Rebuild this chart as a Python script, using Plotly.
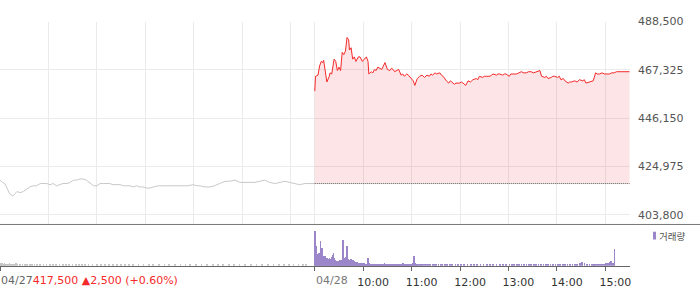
import plotly.graph_objects as go

# ---------------- data ----------------
prev_close = 417500
y_ticks = [403800, 424975, 446150, 467325, 488500]
hour_labels = ["10:00", "11:00", "12:00", "13:00", "14:00", "15:00"]
day_labels = ["04/27", "04/28"]
change_text = "417,500 ▲2,500 (+0.60%)"
legend_text = "거래량"

d1_times = ["09:00","09:03","09:06","09:09","09:12","09:16","09:19","09:21","09:25","09:29",
            "09:33","09:37","09:41","09:45","09:50","09:54","09:58","10:02","10:06","10:10",
            "10:14","10:18","10:23","10:27","10:31","10:35","10:39","10:43","10:47","10:51",
            "10:56","11:00","11:04","11:08","11:12","11:16","11:20","11:24","11:29","11:33",
            "11:37","11:41","11:45","11:49","11:53","11:57","12:02","12:06","12:10","12:16",
            "12:22","12:28","12:35","12:41","12:47","12:53","12:59","13:04","13:08","13:14",
            "13:20","13:26","13:32","13:39","13:45","13:51","13:57","14:03","14:10","14:16",
            "14:22","14:28","14:34","14:41","14:47","14:53","14:59","15:05","15:11","15:18",
            "15:24","15:30"]
d1_prices = [419000,418000,417500,415500,413000,412000,413000,414000,413500,414000,
             415000,416000,416500,416500,417500,417500,417500,417000,417500,416500,
             417000,417500,417500,418000,419000,419000,419500,419500,419000,418000,
             416500,416500,417500,417500,417500,417500,417000,417000,417000,416500,
             416500,416500,416000,416500,416000,416000,415500,415500,416000,416500,
             416500,416500,416500,416500,416500,416500,417000,416500,416500,416000,
             416000,416500,417500,418500,418500,419000,418000,418000,418000,418000,
             418500,419000,418000,417500,418000,418500,418000,417500,417000,417500,
             417500,417500]

d2_times = ["09:00","09:01","09:04","09:06","09:08","09:10","09:11","09:14","09:15","09:18",
            "09:19","09:21","09:24","09:26","09:28","09:30","09:32","09:34","09:36","09:38",
            "09:40","09:42","09:43","09:45","09:47","09:49","09:51","09:54","09:56","09:59",
            "10:02","10:04","10:06","10:07","10:10","10:12","10:14","10:16","10:18","10:20",
            "10:23","10:25","10:27","10:30","10:33","10:35","10:37","10:39","10:41","10:44",
            "10:47","10:49","10:51","10:54","10:56","10:58","11:00","11:02","11:04","11:07",
            "11:10","11:13","11:16","11:19","11:22","11:24","11:26","11:29","11:31","11:35",
            "11:37","11:39","11:43","11:46","11:48","11:50","11:53","11:55","11:59","12:02",
            "12:04","12:07","12:10","12:13","12:16","12:20","12:22","12:24","12:28","12:30",
            "12:33","12:37","12:39","12:41","12:45","12:47","12:49","12:53","12:55","12:57",
            "13:01","13:03","13:06","13:10","13:13","13:16","13:19","13:22","13:25","13:28",
            "13:31","13:35","13:39","13:41","13:45","13:47","13:49","13:53","13:55","13:57",
            "14:01","14:03","14:05","14:08","14:10","14:14","14:16","14:18","14:22","14:25",
            "14:28","14:32","14:34","14:36","14:41","14:45","14:48","14:50","14:53","14:56",
            "14:59","15:02","15:05","15:08","15:11","15:14","15:18","15:21","15:24","15:30"]
d2_prices = [458000,464500,465000,469000,471000,470500,471500,465500,462000,464500,
             466000,465500,472000,471000,467000,468500,467000,475000,474000,475500,
             481500,480500,476000,477000,472000,473000,471000,473000,473000,471000,
             472000,473000,471000,465500,466500,466000,467500,467000,468500,468000,
             467500,469000,470500,467500,467000,468000,467500,466500,467000,467500,
             465000,465500,464500,465500,465000,464000,463500,462500,460500,463500,
             464500,465000,464000,465000,464500,465500,465000,466000,465500,466000,
             465000,464500,462500,461500,462500,462000,461000,461500,461500,462000,
             461500,460500,462500,462000,463000,463500,463000,464500,464000,464500,
             464500,464500,465000,465500,465000,465500,465500,465000,465500,465500,
             464500,465500,465500,465500,466000,466500,466000,466000,466500,466500,
             466000,466500,467000,464500,464000,464500,463500,464000,464500,464500,
             464000,464500,463000,463500,462500,461500,462000,462000,462500,462000,
             463000,462500,463000,461500,462000,462500,466000,465500,465500,466000,
             465500,465500,465500,466000,466000,466500,466500,466500,466500,466500]

# volume: minutes after 09:00, volume (thousand shares)
d1_vol_min = [0,1,2,3,4,5,6,7,8,10,12,14,16,18,20,22,25,28,31,34,37,40,43,46,50,54,58,62,66,70,
              74,78,82,86,90,94,98,102,106,110,115,120,125,130,135,140,145,150,155,160,165,172,
              178,185,190,197,204,210,217,224,230,236,243,250,257,264,270,277,284,290,297,304,
              311,318,325,332,339,346,352,358,364,370,376,379,390]
d1_vol = [3,3,2,3,2,2,3,2,2,2,3,2,2,2,3,2,2,2,1,2,1,2,1,2,1,2,1,1,2,1,
          1,2,1,1,2,1,1,1,2,1,1,1,2,1,1,1,1,1,2,1,1,1,
          1,1,2,1,1,1,1,1,2,1,1,1,1,1,1,1,1,1,1,1,
          1,1,1,1,1,2,1,1,1,1,2,2,3]

d2_vol_min = list(range(0, 70)) + list(range(70, 129)) + [
    130,131,133,135,137,139,141,143,146,148,150,153,156,158,161,164,167,170,174,177,181,185,
    189,193,197,201,205,209,213,217,221,225,229,233,237,241,244,247,250,253,256,259,262,265,
    268,271,274,277,280,283,286,289,292,295,298,301,304,307,310,313,316,319,322,325,328,331,
    334,337,340,343,345,346,347,349,351,353,355,357,359,361,363,365,367,369,371,373,375,376,
    377,378,390]
d2_vol = [36,20,14,12,11,13,10,25,16,18,10,9,10,8,7,8,6,7,8,7,
          6,9,11,13,8,6,5,5,4,5,5,6,5,6,5,27,8,6,9,5,
          20,7,5,6,4,7,5,6,4,5,4,3,4,3,3,3,3,2,3,2,
          2,3,2,2,2,2,8,3,2,2,
          2,2,1,2,2,2,1,2,2,1,2,2,2,1,2,2,3,2,1,2,2,1,2,2,2,1,2,2,1,2,
          2,1,2,1,2,2,1,2,2,3,2,1,2,2,1,2,2,1,2,2,2,3,2,10,3,2,2,1,2,
          2,1,2,2,1,2,2,1,2,1,2,1,2,1,2,1,2,1,2,1,1,2,
          1,1,2,1,1,1,2,1,1,1,2,1,1,2,1,1,
          2,1,1,1,1,2,1,1,2,1,1,1,2,1,1,2,1,1,2,1,1,2,
          1,1,2,2,3,4,3,2,2,1,2,2,2,2,2,2,2,2,2,3,3,4,
          5,3,17]


def pos(day, hhmm):
    h, m = hhmm.split(":")
    return day * 390 + int(h) * 60 + int(m) - 540


hour_pos = [60, 120, 180, 240, 300, 360]

# ---------------- figure ----------------
W, H = 700, 289
PLOT_R = 630
RED = "#f52a2a"
PURPLE = "#9a86c8"
FONT = "DejaVu Sans"

def py(px):
    return (H - px) / H

fig = go.Figure()

fig.add_trace(go.Scatter(x=[pos(0, t) for t in d1_times], y=d1_prices, mode="lines",
                         line=dict(color="#c8c8c8", width=1), hoverinfo="skip",
                         xaxis="x", yaxis="y"))
fig.add_trace(go.Scatter(x=[pos(1, d2_times[0]), pos(1, d2_times[-1])],
                         y=[prev_close, prev_close], mode="lines",
                         line=dict(color="#555555", width=1, dash="1px,1px"),
                         hoverinfo="skip", xaxis="x", yaxis="y"))
fig.add_trace(go.Scatter(x=[pos(1, t) for t in d2_times], y=d2_prices, mode="lines",
                         line=dict(color=RED, width=1), fill="tonexty",
                         fillcolor="rgba(226,0,28,0.105)", hoverinfo="skip",
                         xaxis="x", yaxis="y"))
fig.add_trace(go.Bar(x=d1_vol_min, y=[v * 1000 for v in d1_vol], width=0.9,
                     marker=dict(color="#c4c4c4", line=dict(width=0)),
                     hoverinfo="skip", xaxis="x2", yaxis="y2"))
fig.add_trace(go.Bar(x=[390 + m for m in d2_vol_min], y=[v * 1000 for v in d2_vol], width=0.9,
                     marker=dict(color=PURPLE, line=dict(width=0)),
                     hoverinfo="skip", xaxis="x2", yaxis="y2"))

grid_x = [0] + hour_pos + [390] + [390 + h for h in hour_pos]
xr = [0, 780.6]

fig.update_layout(
    width=W, height=H, margin=dict(l=0, r=W - PLOT_R, t=0, b=0),
    paper_bgcolor="white", plot_bgcolor="white", showlegend=False, bargap=0,
    xaxis=dict(domain=[0, 1], range=xr, anchor="y", tickvals=grid_x, showticklabels=False,
               ticks="", showgrid=True, gridcolor="#ebebeb", gridwidth=1, zeroline=False),
    yaxis=dict(domain=[py(225), py(16)], range=[399770, 488500], side="right", anchor="x",
               tickvals=y_ticks, ticktext=[f"{v:,}" for v in y_ticks], ticks="",
               ticklabelstandoff=7,
               tickfont=dict(family=FONT, size=11, color="#555555"),
               showgrid=True, gridcolor="#ebebeb", gridwidth=1, zeroline=False),
    xaxis2=dict(domain=[0, 1], range=xr, anchor="y2", tickvals=[0, 390] + [390 + h for h in hour_pos],
                ticktext=["", ""] + hour_labels, ticks="outside", ticklen=4, tickcolor="#666666",
                ticklabelshift=10, ticklabelstandoff=2,
                tickfont=dict(family=FONT, size=11, color="#333333"),
                showline=True, linecolor="#666666", linewidth=1, showgrid=False, zeroline=False),
    yaxis2=dict(domain=[py(268), py(226)], range=[0, 42000], anchor="x2",
                showticklabels=False, showgrid=False, zeroline=False, ticks=""),
    shapes=[
        dict(type="line", xref="paper", yref="paper", x0=0, x1=W / PLOT_R,
             y0=py(225.5), y1=py(225.5), line=dict(color="#777777", width=1)),
        dict(type="rect", xref="paper", yref="paper", x0=653 / PLOT_R, x1=656 / PLOT_R,
             y0=py(241), y1=py(233), fillcolor=PURPLE, line=dict(width=0)),
    ],
    annotations=[
        dict(xref="x2", yref="paper", x=0, y=py(283.5), xanchor="left", yanchor="middle",
             showarrow=False, borderpad=0,
             text=f"{day_labels[0]}<span style='color:{RED}'>{change_text}</span>",
             font=dict(family=FONT, size=11, color="#666666")),
        dict(xref="x2", yref="paper", x=390, y=py(283.5), xanchor="left", yanchor="middle",
             showarrow=False, borderpad=0, text=day_labels[1],
             font=dict(family=FONT, size=11, color="#777777")),
        dict(xref="paper", yref="paper", x=657.5 / PLOT_R, y=py(237.5), xanchor="left",
             yanchor="middle", showarrow=False, borderpad=0, text=legend_text,
             font=dict(family="Noto Sans CJK KR", size=9.5, color="#555555")),
    ],
)

fig.write_html("out.html")
